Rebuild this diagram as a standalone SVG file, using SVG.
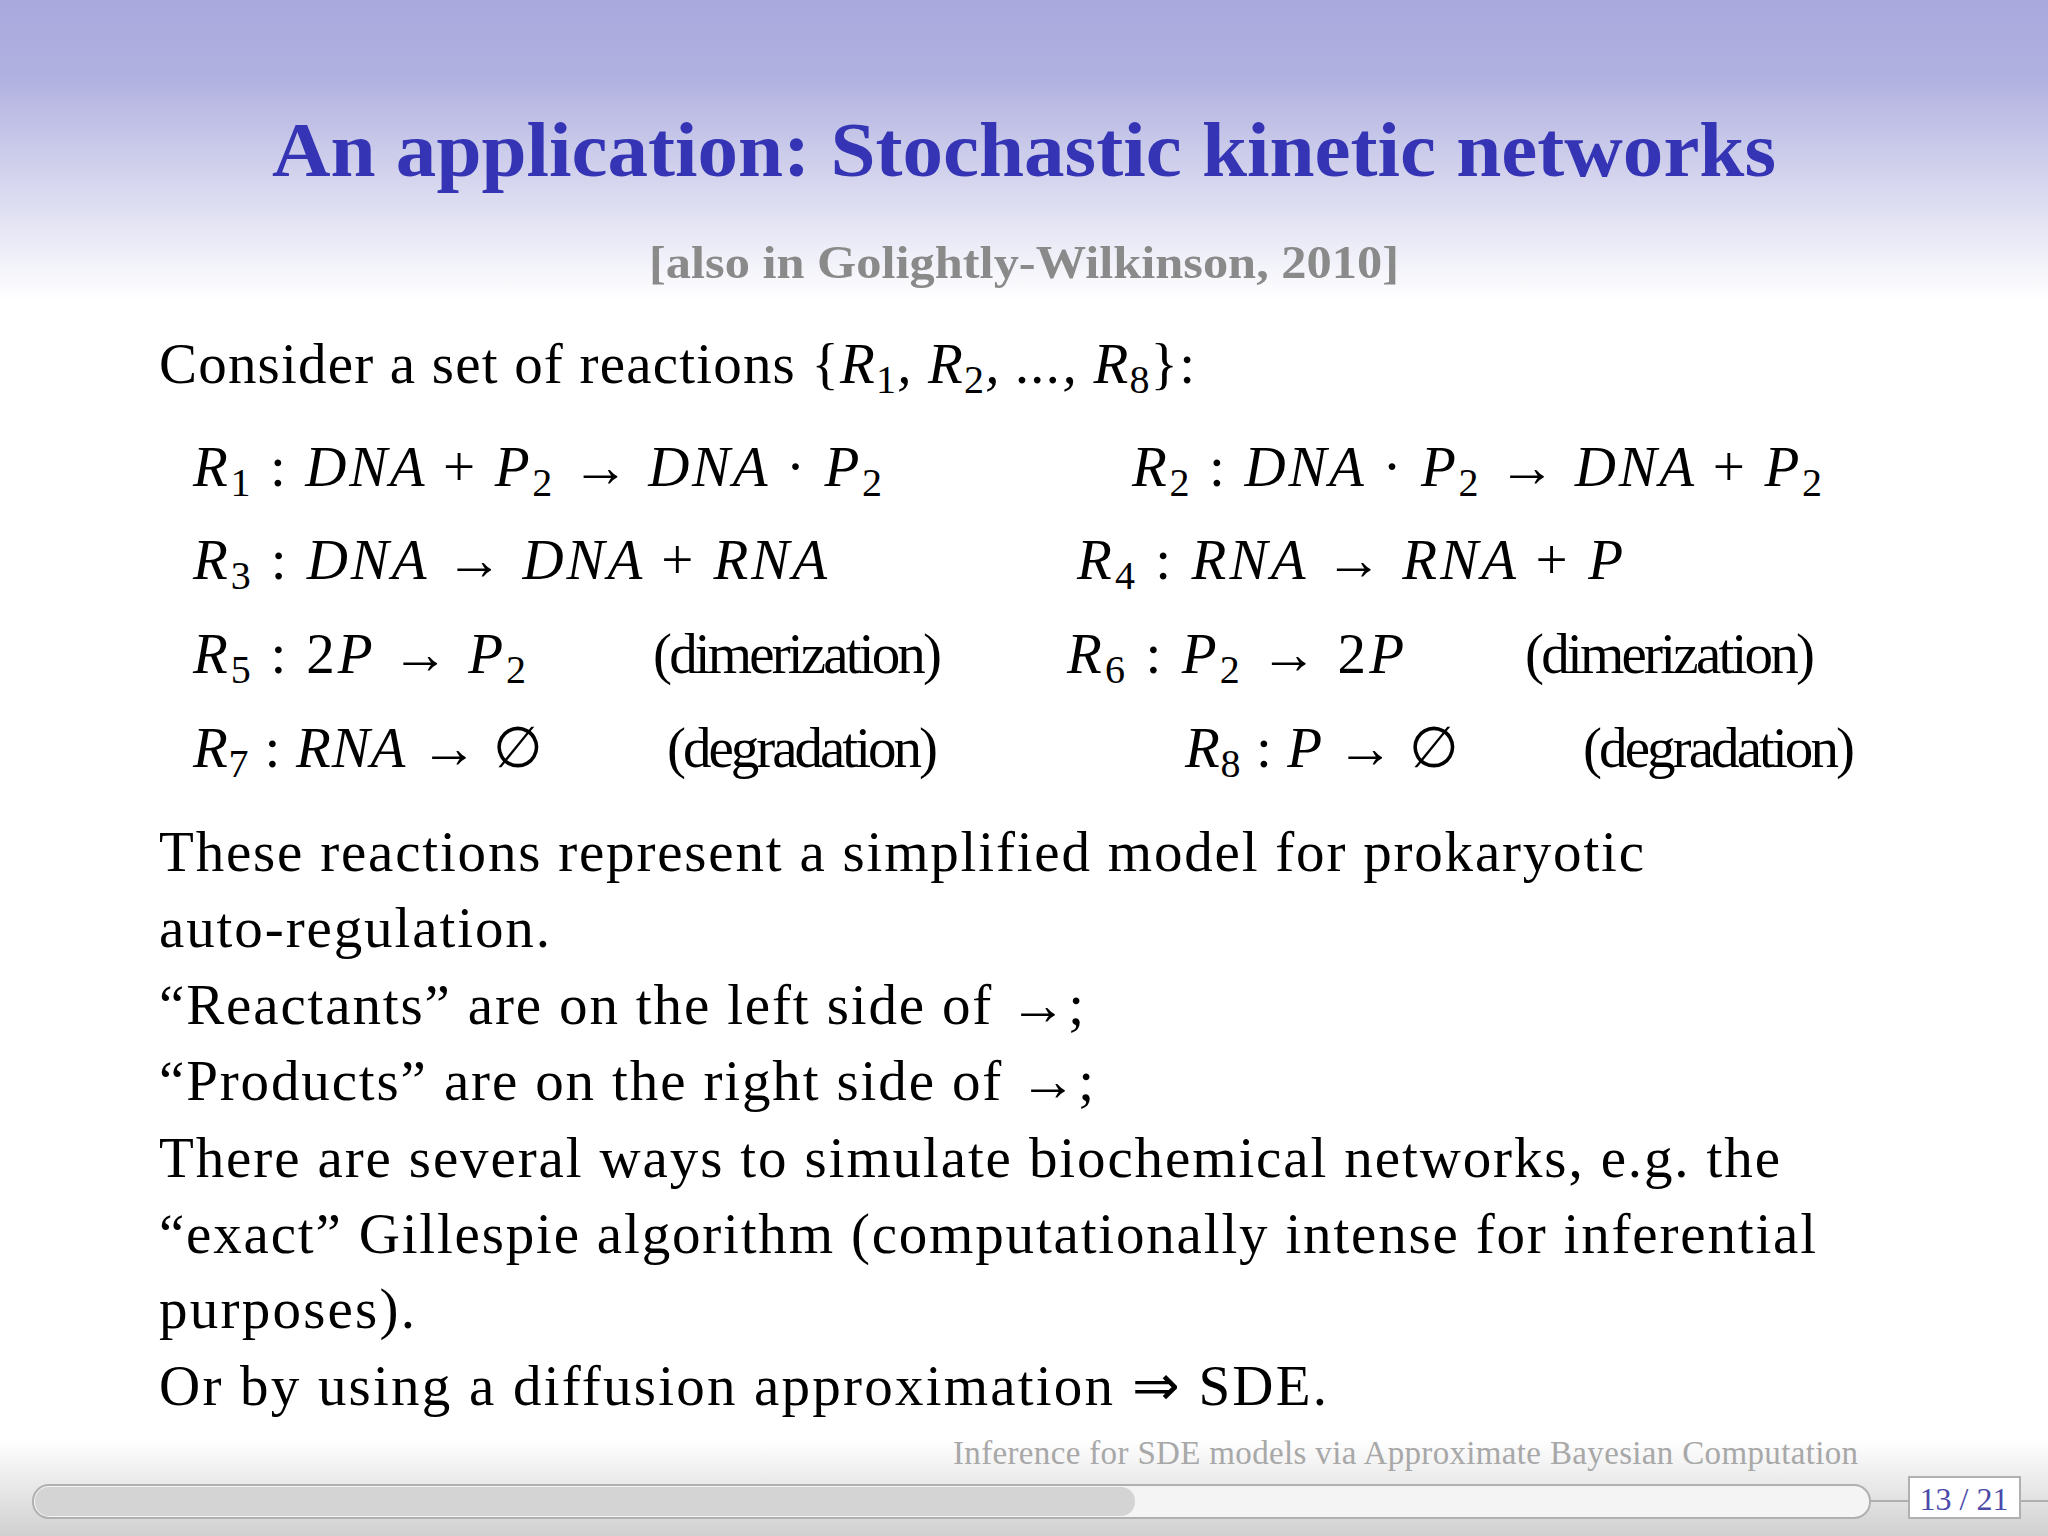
<svg xmlns="http://www.w3.org/2000/svg" width="2048" height="1536" viewBox="0 0 2048 1536">
<defs>
<linearGradient id="top" x1="0" y1="0" x2="0" y2="1"><stop offset="0" stop-color="#a9a9de"/><stop offset="0.25" stop-color="#b0b0e0"/><stop offset="1" stop-color="#ffffff"/></linearGradient>
<linearGradient id="bot" x1="0" y1="0" x2="0" y2="1"><stop offset="0" stop-color="#ffffff"/><stop offset="1" stop-color="#d0d0d0"/></linearGradient>
<style>
.t{font-family:"Liberation Serif",serif;fill:#000;font-size:57px}
.m{font-family:"Liberation Serif",serif;fill:#000;font-size:57px;font-style:italic}
.n{font-style:normal}
.s{font-size:40px;font-style:normal}
</style>
</defs>
<rect width="2048" height="1536" fill="#fff"/>
<rect width="2048" height="300" fill="url(#top)"/>
<rect y="1440" width="2048" height="96" fill="url(#bot)"/>
<text x="1024" y="176" text-anchor="middle" font-family="Liberation Serif,serif" font-weight="bold" font-size="78" fill="#3434b4" textLength="1504" lengthAdjust="spacingAndGlyphs">An application: Stochastic kinetic networks</text>
<text x="1024" y="278" text-anchor="middle" font-family="Liberation Serif,serif" font-weight="bold" font-size="46" fill="#8a8a8a" textLength="750" lengthAdjust="spacingAndGlyphs">[also in Golightly-Wilkinson, 2010]</text>
<text class="t" x="159" y="383" textLength="1036">Consider a set of reactions {<tspan class="m">R</tspan><tspan class="s" dy="10">1</tspan><tspan dy="-10" class="m">, R</tspan><tspan class="s" dy="10">2</tspan><tspan dy="-10" class="m">, ..., R</tspan><tspan class="s" dy="10">8</tspan><tspan dy="-10">}:</tspan></text>
<g id="reactions">
<text class="m" x="193" y="486" textLength="689">R<tspan class="s" dy="10">1</tspan><tspan dy="-10"> <tspan class="n">:</tspan> DNA <tspan class="n">+</tspan> P</tspan><tspan class="s" dy="10">2</tspan><tspan dy="-10" class="n"> → </tspan><tspan>DNA <tspan class="n">·</tspan> P</tspan><tspan class="s" dy="10">2</tspan></text>
<text class="m" x="1132" y="486" textLength="690">R<tspan class="s" dy="10">2</tspan><tspan dy="-10"> <tspan class="n">:</tspan> DNA <tspan class="n">·</tspan> P</tspan><tspan class="s" dy="10">2</tspan><tspan dy="-10" class="n"> → </tspan><tspan>DNA <tspan class="n">+</tspan> P</tspan><tspan class="s" dy="10">2</tspan></text>
<text class="m" x="193" y="579" textLength="634">R<tspan class="s" dy="10">3</tspan><tspan dy="-10"> <tspan class="n">:</tspan> DNA <tspan class="n">→</tspan> DNA <tspan class="n">+</tspan> RNA</tspan></text>
<text class="m" x="1077" y="579" textLength="546">R<tspan class="s" dy="10">4</tspan><tspan dy="-10"> <tspan class="n">:</tspan> RNA <tspan class="n">→</tspan> RNA <tspan class="n">+</tspan> P</tspan></text>
<text class="m" x="193" y="673" textLength="333">R<tspan class="s" dy="10">5</tspan><tspan dy="-10"> <tspan class="n">: 2</tspan>P <tspan class="n">→</tspan> P</tspan><tspan class="s" dy="10">2</tspan></text>
<text class="m" x="1067" y="673" textLength="337">R<tspan class="s" dy="10">6</tspan><tspan dy="-10"> <tspan class="n">:</tspan> P</tspan><tspan class="s" dy="10">2</tspan><tspan dy="-10" class="n"> → 2</tspan><tspan>P</tspan></text>
<text class="m" x="193" y="767" textLength="350">R<tspan class="s" dy="10">7</tspan><tspan dy="-10"> <tspan class="n">:</tspan> RNA <tspan class="n">→ ∅</tspan></tspan></text>
<text class="m" x="1185" y="767" textLength="274">R<tspan class="s" dy="10">8</tspan><tspan dy="-10"> <tspan class="n">:</tspan> P <tspan class="n">→ ∅</tspan></tspan></text>
<text class="t" x="653" y="673" font-size="50" textLength="289">(dimerization)</text>
<text class="t" x="1525" y="673" font-size="50" textLength="290">(dimerization)</text>
<text class="t" x="667" y="767" font-size="50" textLength="271">(degradation)</text>
<text class="t" x="1583" y="767" font-size="50" textLength="272">(degradation)</text>
</g>
<g id="body">
<text class="t" x="159" y="871" textLength="1485">These reactions represent a simplified model for prokaryotic</text>
<text class="t" x="159" y="947" textLength="391">auto-regulation.</text>
<text class="t" x="159" y="1024" textLength="925">“Reactants” are on the left side of →;</text>
<text class="t" x="159" y="1100" textLength="935">“Products” are on the right side of →;</text>
<text class="t" x="159" y="1177" textLength="1621">There are several ways to simulate biochemical networks, e.g. the</text>
<text class="t" x="159" y="1253" textLength="1657">“exact” Gillespie algorithm (computationally intense for inferential</text>
<text class="t" x="159" y="1328" textLength="256">purposes).</text>
<text class="t" x="159" y="1405" textLength="1168">Or by using a diffusion approximation ⇒ SDE.</text>
</g>
<g id="footer">
<text x="953" y="1464" font-family="Liberation Serif,serif" font-size="33" fill="#a8a8a8" textLength="905">Inference for SDE models via Approximate Bayesian Computation</text>
<rect x="33" y="1485" width="1837" height="33" rx="16" fill="#f4f4f4" stroke="#b0b0b0" stroke-width="2"/>
<rect x="35" y="1487" width="1100" height="29" rx="14" fill="#d4d4d4"/>
<line x1="1870" y1="1501" x2="1909" y2="1501" stroke="#b0b0b0" stroke-width="2"/>
<line x1="2020" y1="1501" x2="2048" y2="1501" stroke="#b0b0b0" stroke-width="2"/>
<rect x="1909" y="1477" width="111" height="41" fill="#fff" stroke="#b0b0b0" stroke-width="2"/>
<text x="1964" y="1510" text-anchor="middle" font-family="Liberation Serif,serif" font-size="32" fill="#4a4aaa">13 / 21</text>
</g>
</svg>
